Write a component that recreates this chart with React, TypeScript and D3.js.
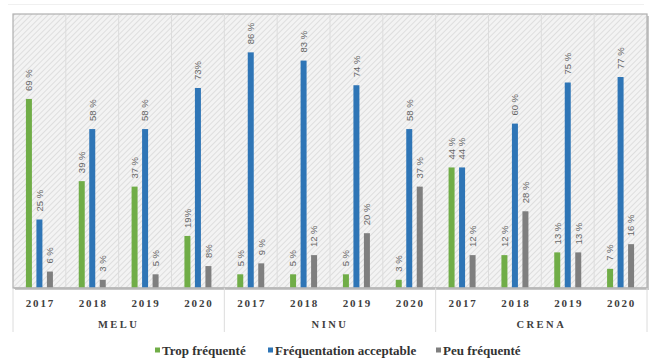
import React from 'react';
import * as d3 from 'd3';

const groups = ['MELU', 'NINU', 'CRENA'];
const years = ['2017', '2018', '2019', '2020'];
const series = ['Trop fréquenté', 'Fréquentation acceptable', 'Peu fréquenté'];
const colors = ['#70AD47', '#2E75B6', '#7F7F7F'];

// one row per group, one value per year
const tropFrequente = [
  [69, 39, 37, 19],
  [5, 5, 5, 3],
  [44, 12, 13, 7],
];
const acceptable = [
  [25, 58, 58, 73],
  [86, 83, 74, 58],
  [44, 60, 75, 77],
];
const peuFrequente = [
  [6, 3, 5, 8],
  [9, 12, 20, 37],
  [12, 28, 13, 16],
];
// columns whose labels are written without a space before "%"
const compactLabels = ['MELU-2020'];

const W = 652;
const H = 358;
const plot = { left: 13, right: 647, top: 14, bottom: 288 };

type Bar = { key: string; col: string; s: number; v: number; label: string };

const App = () => {
  const columns = groups.flatMap(g => years.map(y => `${g}-${y}`));
  const x = d3.scaleBand().domain(columns).range([plot.left, plot.right]).padding(0);
  const xGroup = d3.scaleBand().domain(groups).range([plot.left, plot.right]).padding(0);
  const xInner = d3.scalePoint<number>().domain([0, 1, 2]).range([-10.5, 10.5]);
  const y = d3.scaleLinear().domain([0, 100]).range([plot.bottom, plot.top]);
  const barW = 6;

  const bars: Bar[] = [];
  groups.forEach((g, gi) => {
    years.forEach((yr, yi) => {
      const col = `${g}-${yr}`;
      [tropFrequente, acceptable, peuFrequente].forEach((arr, s) => {
        const v = arr[gi][yi];
        const label = compactLabels.includes(col) ? `${v}%` : `${v} %`;
        bars.push({ key: `${col}-${s}`, col, s, v, label });
      });
    });
  });

  const legendX = [155, 268, 436];

  return (
    <div style={{ position: 'absolute', left: 0, top: 0 }}>
      <svg width={W} height={H} style={{ display: 'block', background: '#fff' }}>
        <defs>
          <pattern id="hatch" width="4" height="4" patternUnits="userSpaceOnUse" patternTransform="rotate(45)">
            <rect width="4" height="4" fill="#f3f3f3" />
            <line x1="0" y1="0" x2="0" y2="4" stroke="#d6d6d6" strokeWidth="1.4" />
          </pattern>
        </defs>
        <line x1={8} x2={644} y1={4.5} y2={4.5} stroke="#f0f0f0" />

        {/* plot area */}
        <rect x={plot.left + 2} y={plot.top + 2} width={plot.right - plot.left} height={plot.bottom - plot.top}
          fill="#c8c8c8" />
        <rect x={plot.left} y={plot.top} width={plot.right - plot.left} height={plot.bottom - plot.top}
          fill="url(#hatch)" stroke="#b0b0b0" strokeWidth={1.2} />
        {columns.slice(1).map(c => (
          <line key={c} x1={x(c)} x2={x(c)} y1={plot.top} y2={plot.bottom} stroke="#dcdcdc" strokeWidth={1} />
        ))}

        {/* bars */}
        {bars.map(b => {
          const cx = (x(b.col) as number) + x.bandwidth() / 2 + (xInner(b.s) as number);
          return (
            <g key={b.key}>
              <rect x={cx - barW / 2} y={y(b.v)} width={barW} height={plot.bottom - y(b.v)} fill={colors[b.s]} />
              <text transform={`translate(${cx},${y(b.v) - 8}) rotate(-90)`} dy="0.35em"
                fontFamily="'Liberation Sans', Arial, sans-serif" fontSize={9.5} fill="#666">{b.label}</text>
            </g>
          );
        })}

        <line x1={plot.left} x2={plot.right} y1={plot.bottom} y2={plot.bottom} stroke="#b8b8b8" strokeWidth={1.5} />

        {/* category axis */}
        {[...groups.map(g => xGroup(g) as number), plot.right].map((gx, i) => (
          <line key={i} x1={gx} x2={gx} y1={plot.bottom} y2={332} stroke="#dcdcdc" strokeWidth={1} />
        ))}
        {columns.map(c => (
          <text key={c} x={(x(c) as number) + x.bandwidth() / 2 + 1} y={307} textAnchor="middle"
            fontFamily="'Liberation Serif', 'Times New Roman', serif" fontWeight="bold" fontSize={11}
            letterSpacing={1.8} fill="#404040">{c.split('-')[1]}</text>
        ))}
        {groups.map(g => (
          <text key={g} x={(xGroup(g) as number) + xGroup.bandwidth() / 2} y={328} textAnchor="middle"
            fontFamily="'Liberation Serif', 'Times New Roman', serif" fontWeight="bold" fontSize={10.5}
            letterSpacing={2.5} fill="#404040">{g}</text>
        ))}

        {/* legend */}
        {series.map((s, i) => (
          <g key={s} transform={`translate(${legendX[i]},351)`}>
            <rect x={0} y={-3.5} width={5} height={5} fill={colors[i]} />
            <text x={7} y={3.5} fontFamily="'Liberation Serif', 'Times New Roman', serif" fontWeight="bold"
              fontSize={13} fill="#333">{s}</text>
          </g>
        ))}
      </svg>
    </div>
  );
};

export default App;
